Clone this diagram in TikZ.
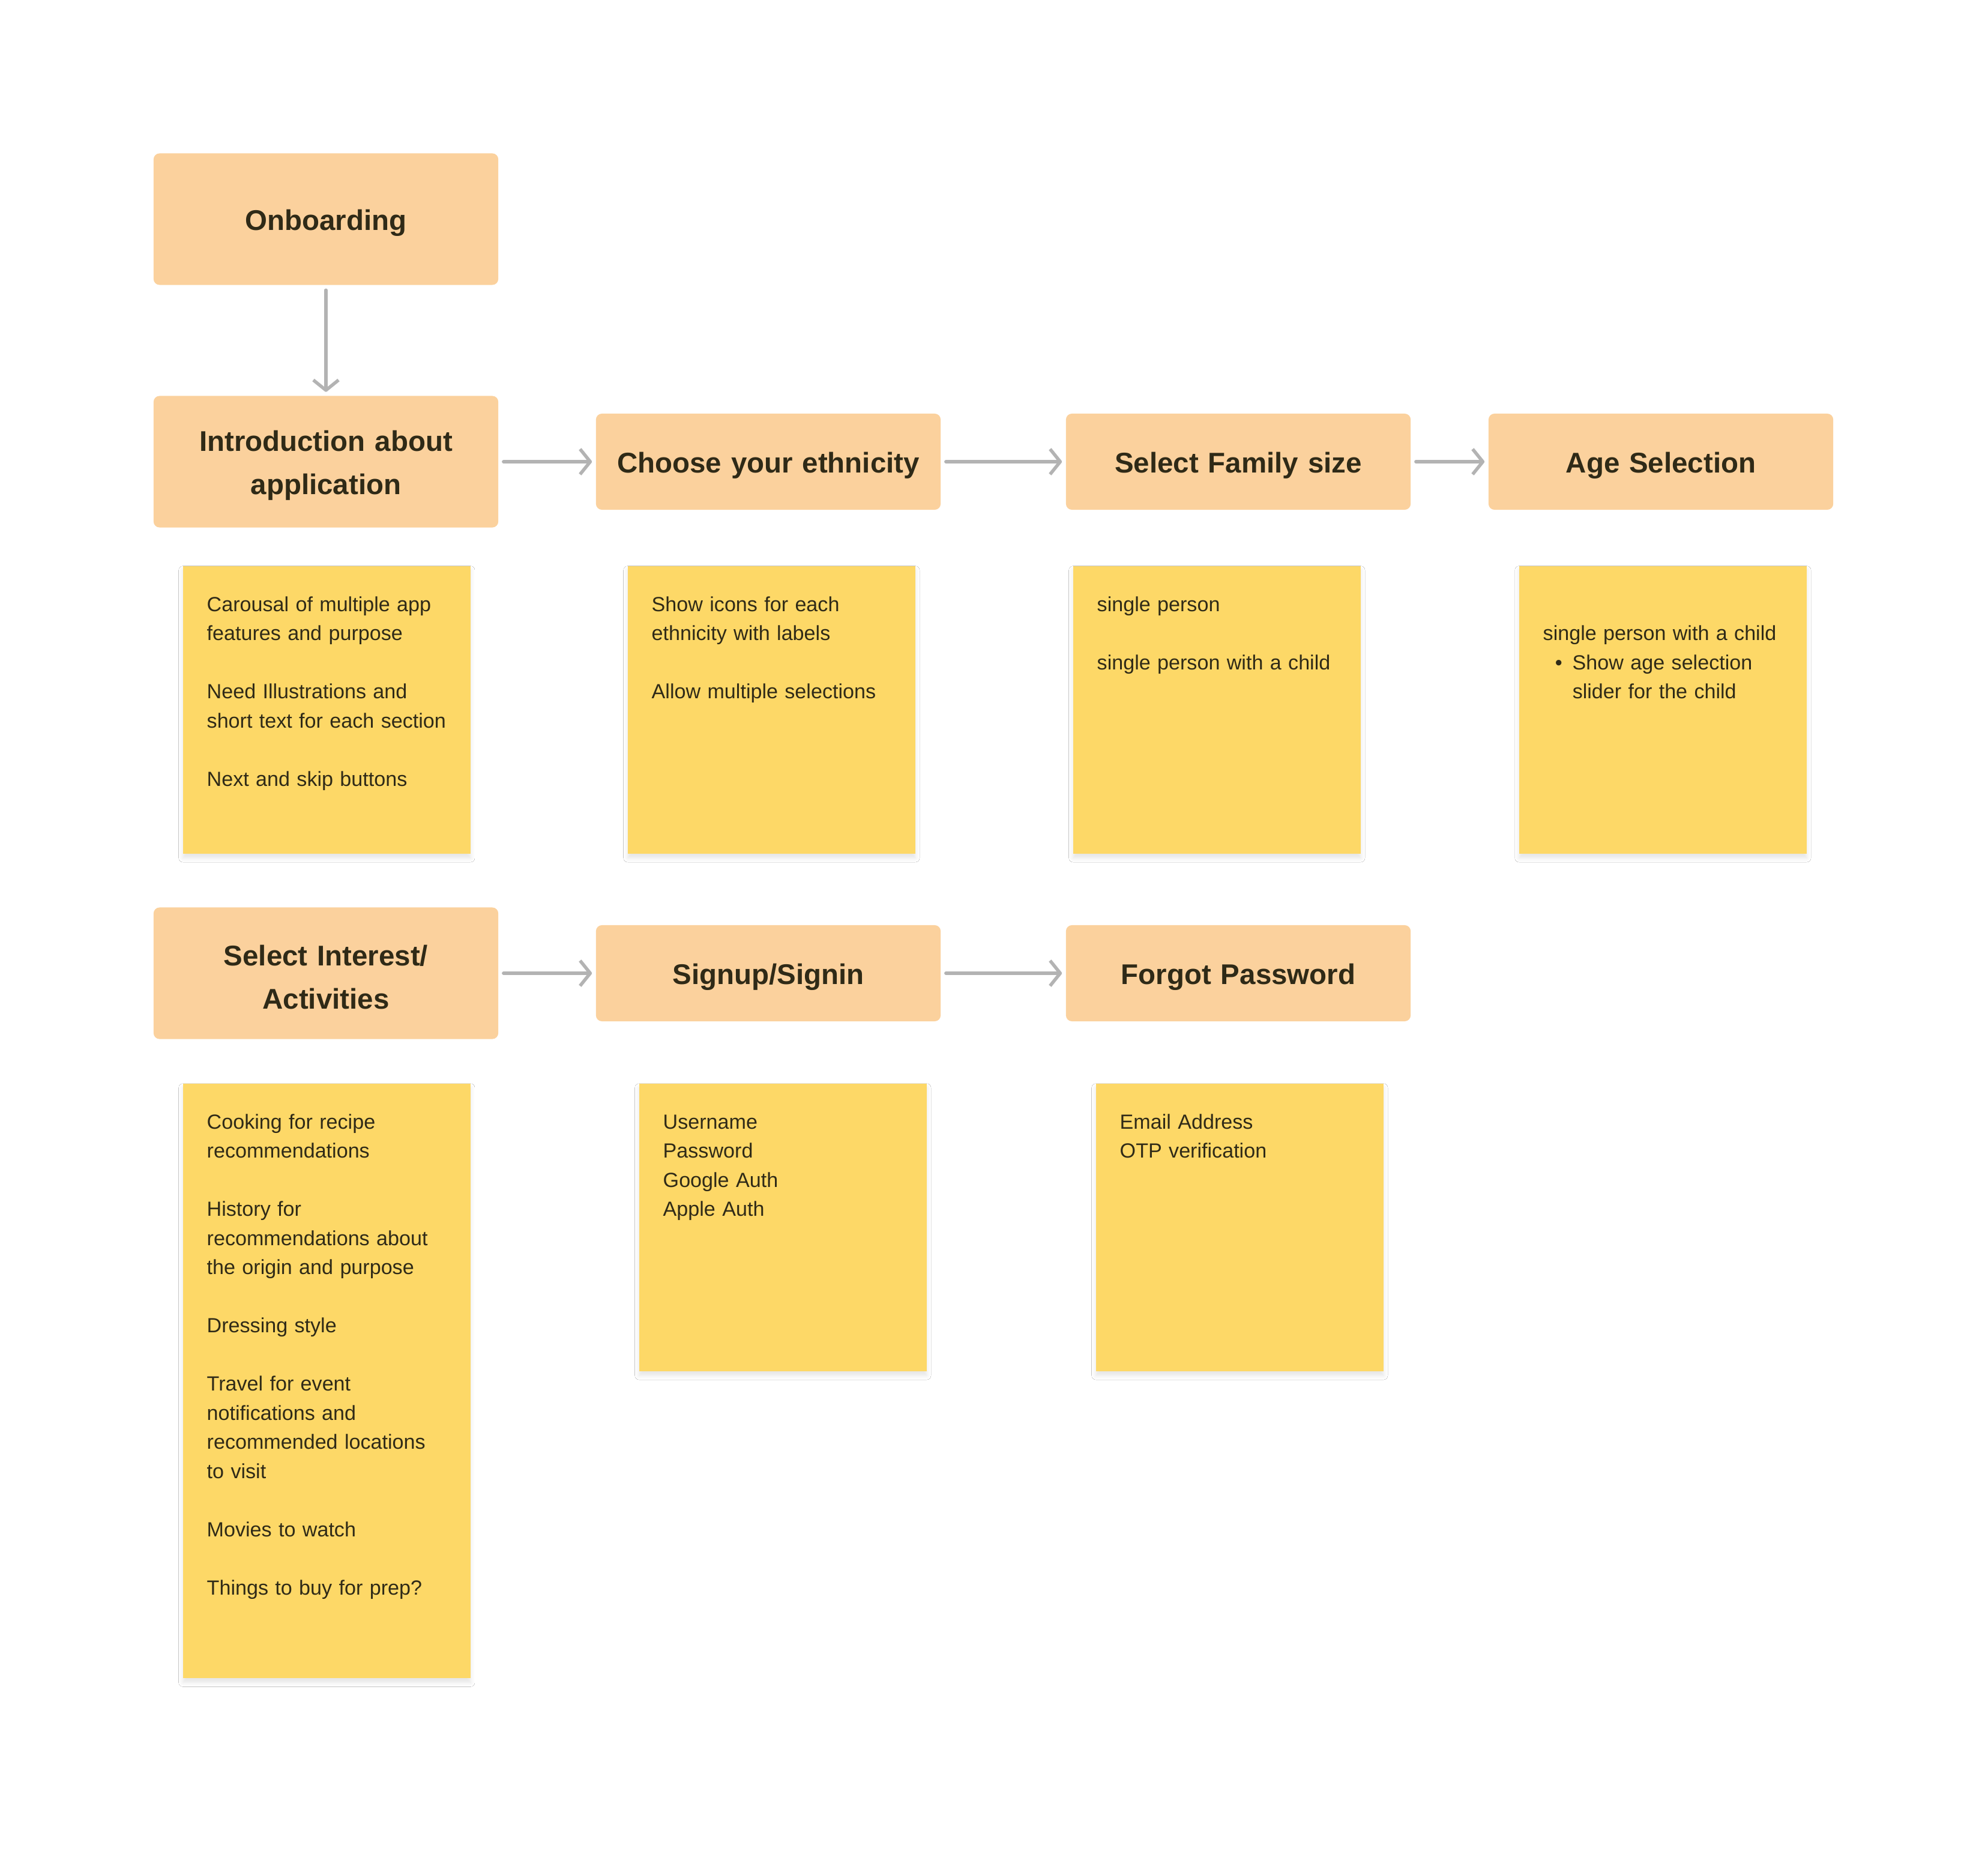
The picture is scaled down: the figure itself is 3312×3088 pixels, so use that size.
\documentclass[tikz,border=0pt]{standalone}
\usepackage{fontspec}
\setmainfont{Liberation Sans}
\usetikzlibrary{arrows.meta,shadows.blur}

\definecolor{stepfill}{HTML}{FBD19D}
\definecolor{notefill}{HTML}{FDD867}
\definecolor{inktext}{HTML}{2F2A17}
\definecolor{flowgray}{HTML}{B3B3B3}

\tikzset{
  stepbox/.style={fill=stepfill, rounded corners=0.1cm, minimum width=5.74cm,
    text width=5.2cm, align=center, text=inktext,
    font=\fontsize{13.5}{20.4}\selectfont\bfseries,
    execute at begin node={\rule{0pt}{13.3pt}}},
  bigstep/.style={stepbox, minimum height=2.19cm},
  smallstep/.style={stepbox, minimum height=1.6cm},
  notebox/.style={fill=notefill, anchor=north west, minimum width=4.79cm,
    minimum height=4.79cm, inner sep=0pt,
    blur shadow={shadow xshift=0cm, shadow yshift=-0.07cm,
      shadow blur radius=0.07cm, shadow opacity=10}},
  notetext/.style={anchor=base west, inner sep=0pt, text width=4.3cm,
    align=left, text=inktext, font=\fontsize{9.7}{13.8}\selectfont},
  flow/.style={draw=flowgray, line width=0.055cm, line cap=round,
    -{Straight Barb[length=0.17cm,width=0.42cm,line join=round]},
    shorten <=0.08cm, shorten >=0.06cm}
}

\begin{document}
\begin{tikzpicture}[x=0.01cm,y=-0.01cm]
  \fill[white] (0,0) rectangle (3312,3088);

  % steps
  \node[bigstep] (onboard) at (543,365) {Onboarding};
  \node[bigstep] (intro) at (543,769) {Introduction about\\application};
  \node[smallstep] (ethnic) at (1280,769) {Choose your ethnicity};
  \node[smallstep] (family) at (2063,769) {Select Family size};
  \node[smallstep] (age) at (2767,769) {Age Selection};
  \node[bigstep] (interest) at (543,1621) {Select Interest/\\Activities};
  \node[smallstep] (signup) at (1280,1621) {Signup/Signin};
  \node[smallstep] (forgot) at (2063,1621) {Forgot Password};

  \draw[flow] (onboard) -- (intro);
  \draw[flow] (intro) -- (ethnic);
  \draw[flow] (ethnic) -- (family);
  \draw[flow] (family) -- (age);
  \draw[flow] (interest) -- (signup);
  \draw[flow] (signup) -- (forgot);

  % sticky notes
  \node[notebox] (introNote) at (304,942) {};
  \node[notetext] at ([shift={(40,76)}]introNote.north west)
    {Carousal of multiple app\\features and purpose\\~\\Need Illustrations and\\short text for each section\\~\\Next and skip buttons};

  \node[notebox] (ethnicNote) at (1045,942) {};
  \node[notetext] at ([shift={(40,76)}]ethnicNote.north west)
    {Show icons for each\\ethnicity with labels\\~\\Allow multiple selections};

  \node[notebox] (familyNote) at (1787,942) {};
  \node[notetext] at ([shift={(40,76)}]familyNote.north west)
    {single person\\~\\single person with a child};

  \node[notebox] (ageNote) at (2530,942) {};
  \node[notetext] at ([shift={(40,76)}]ageNote.north west)
    {~\\single person with a child\\
     \hspace*{0.2cm}\makebox[0.29cm][l]{\textbullet}Show age selection\\
     \hspace*{0.49cm}slider for the child};

  \node[notebox, minimum height=9.9cm] (interestNote) at (304,1804) {};
  \node[notetext] at ([shift={(40,76)}]interestNote.north west)
    {Cooking for recipe\\recommendations\\~\\History for\\recommendations about\\the origin and purpose\\~\\Dressing style\\~\\Travel for event\\notifications and\\recommended locations\\to visit\\~\\Movies to watch\\~\\Things to buy for prep?};

  \node[notebox] (signupNote) at (1064,1804) {};
  \node[notetext] at ([shift={(40,76)}]signupNote.north west)
    {Username\\Password\\Google Auth\\Apple Auth};

  \node[notebox] (forgotNote) at (1825,1804) {};
  \node[notetext] at ([shift={(40,76)}]forgotNote.north west)
    {Email Address\\OTP verification};
\end{tikzpicture}
\end{document}
